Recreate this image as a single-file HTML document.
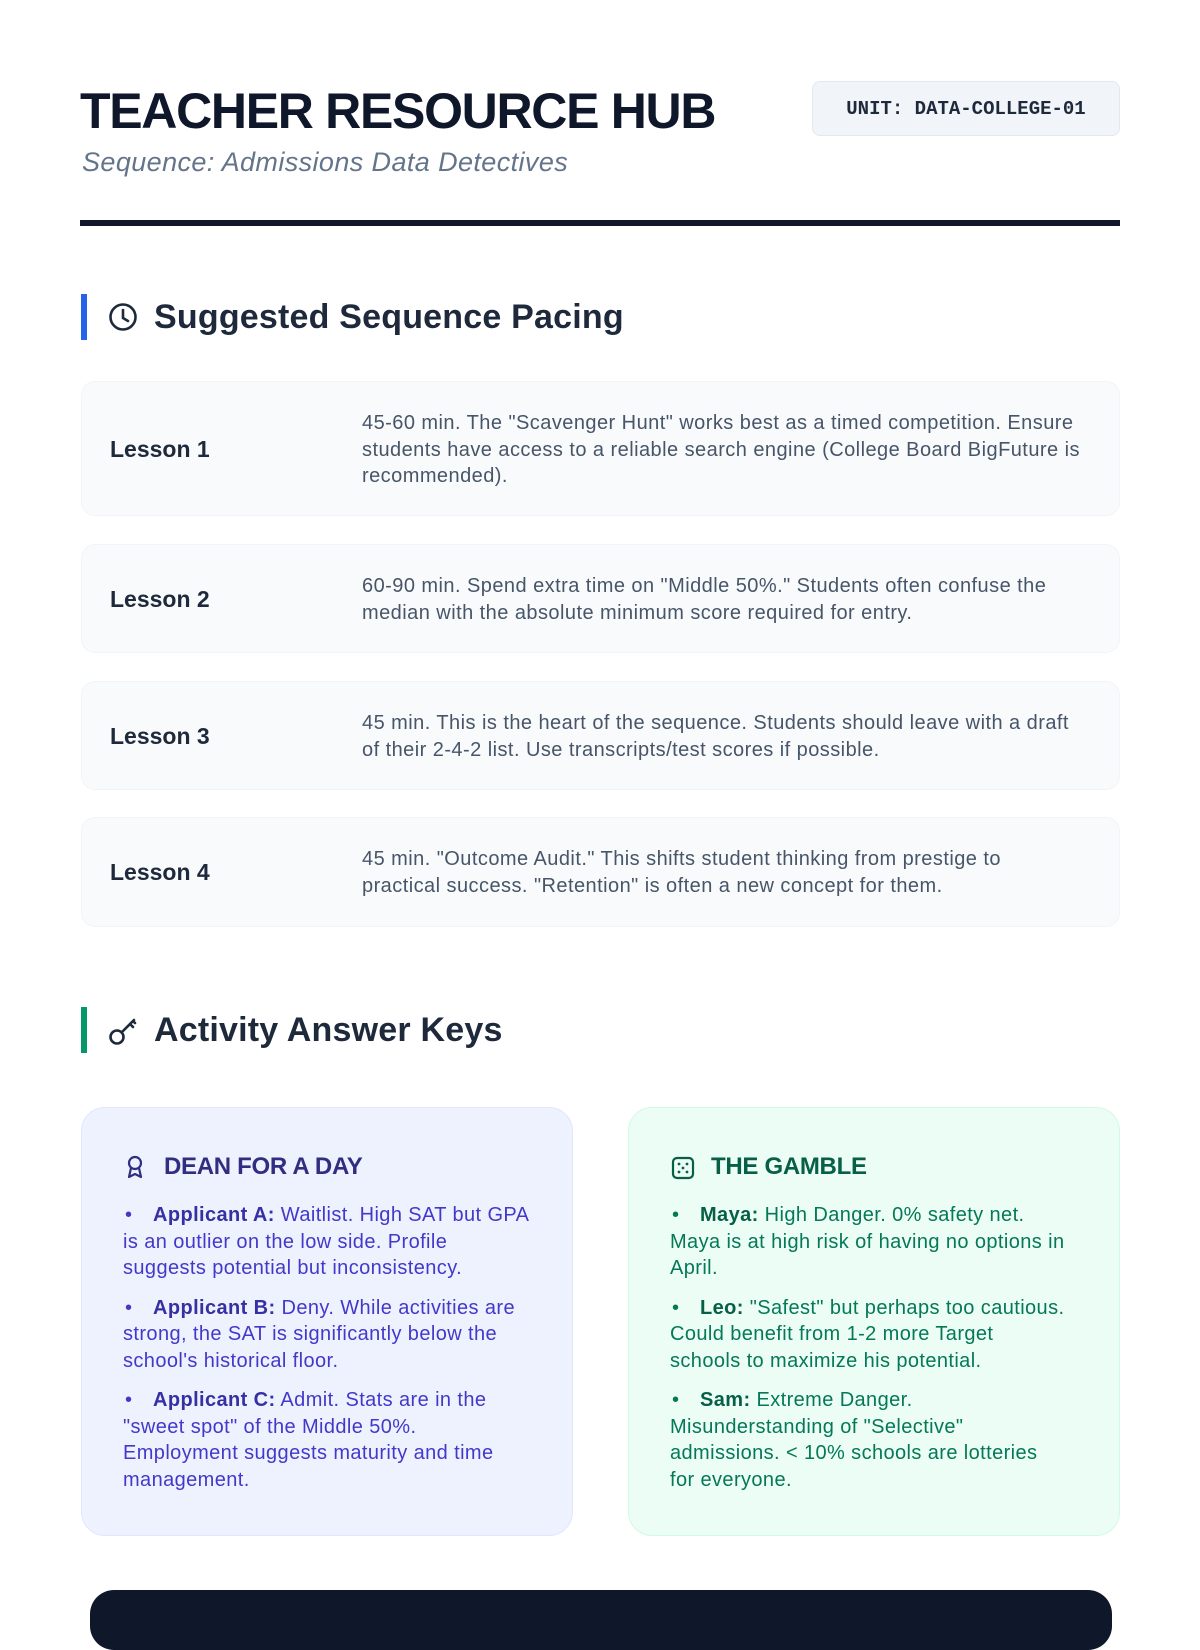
<!DOCTYPE html>
<html><head><meta charset="utf-8"><style>
*{margin:0;padding:0;box-sizing:border-box}
body{width:1200px;height:1600px;overflow:hidden;background:#fff;font-family:"Liberation Sans",sans-serif;position:relative;color:#0f172a}
.abs{position:absolute}
h1{position:absolute;left:80px;top:82px;font-size:50px;font-weight:bold;letter-spacing:-1.3px;color:#0f172a;white-space:nowrap}
.sub{left:82px;top:146px;font-size:27px;letter-spacing:0.4px;font-style:italic;color:#64748b;white-space:nowrap}
.badge{left:812px;top:81px;width:308px;height:55px;background:#f1f5f9;border:1px solid #e2e8f0;border-radius:8px;font-family:"Liberation Mono",monospace;font-weight:bold;font-size:19px;color:#1e293b;display:flex;align-items:center;justify-content:center}
.rule{left:80px;top:220px;width:1040px;height:6px;background:#0f172a}
.bar{width:6px;height:46px}
.sh{font-size:34px;font-weight:bold;color:#1e293b;white-space:nowrap;letter-spacing:0.2px}
.card{left:81px;width:1039px;background:#f8fafc;border:1px solid #f1f5f9;border-radius:14px}
.lab{position:absolute;left:28px;font-size:23px;font-weight:bold;color:#1e293b}
.desc{position:absolute;left:280px;right:34px;font-size:20px;letter-spacing:0.45px;line-height:26.5px;color:#475569}
.box{top:1107px;width:492px;height:429px;border-radius:24px;padding:0 36px 0 41px}
.bt{position:absolute;top:45px;left:82px;font-size:24px;font-weight:bold;letter-spacing:-0.3px}
ul{position:absolute;top:94px;left:41px;right:46px;list-style:none}
.L ul{right:38px}
.G ul{right:54px}
li{font-size:20px;letter-spacing:0.4px;line-height:26.5px;margin-bottom:13px}
li:before{content:"•";display:inline-block;width:28px;padding-left:2px}
.L{color:#4338ca}.L b{color:#3730a3}
.G{color:#047857}.G b{color:#065f46}
</style></head><body>
<h1>TEACHER RESOURCE HUB</h1>
<div class="abs sub" style="top:147px">Sequence: Admissions Data Detectives</div>
<div class="abs badge">UNIT: DATA-COLLEGE-01</div>
<div class="abs rule"></div>

<div class="abs bar" style="left:81px;top:294px;background:#2563eb"></div>
<svg class="abs" style="left:108px;top:302px" width="30" height="30" viewBox="0 0 30 30"><circle cx="15" cy="15" r="12.5" fill="none" stroke="#1e293b" stroke-width="2.6"/><path d="M15 8v8l5 3" fill="none" stroke="#1e293b" stroke-width="2.6" stroke-linecap="round"/></svg>
<div class="abs sh" style="left:154px;top:298px">Suggested Sequence Pacing</div>

<div class="abs card" style="top:381px;height:135px"><div class="lab" style="top:54px">Lesson 1</div><div class="desc" style="top:28px">45-60 min. The "Scavenger Hunt" works best as a timed competition. Ensure students have access to a reliable search engine (College Board BigFuture is recommended).</div></div>
<div class="abs card" style="top:544px;height:109px"><div class="lab" style="top:41px">Lesson 2</div><div class="desc" style="top:28px">60-90 min. Spend extra time on "Middle 50%." Students often confuse the median with the absolute minimum score required for entry.</div></div>
<div class="abs card" style="top:681px;height:109px"><div class="lab" style="top:41px">Lesson 3</div><div class="desc" style="top:28px">45 min. This is the heart of the sequence. Students should leave with a draft of their 2-4-2 list. Use transcripts/test scores if possible.</div></div>
<div class="abs card" style="top:817px;height:110px"><div class="lab" style="top:41px">Lesson 4</div><div class="desc" style="top:28px">45 min. "Outcome Audit." This shifts student thinking from prestige to practical success. "Retention" is often a new concept for them.</div></div>

<div class="abs bar" style="left:81px;top:1007px;background:#059669"></div>
<svg class="abs" style="left:108px;top:1015px" width="32" height="32" viewBox="0 0 32 32"><circle cx="9" cy="22" r="6.5" fill="none" stroke="#1e293b" stroke-width="2.6"/><path d="M14 17l12-12M22 9l3 3M25 6l2 2" fill="none" stroke="#1e293b" stroke-width="2.6" stroke-linecap="round"/></svg>
<div class="abs sh" style="left:154px;top:1011px">Activity Answer Keys</div>

<div class="abs box L" style="left:81px;background:#eef2ff;border:1px solid #e0e7ff">
<svg class="abs" style="left:42px;top:46px" width="22" height="26" viewBox="0 0 22 26"><circle cx="11" cy="9" r="6" fill="none" stroke="#312e81" stroke-width="2.2"/><path d="M7 14l-2 9 6-3 6 3-2-9" fill="none" stroke="#312e81" stroke-width="2.2" stroke-linejoin="round"/></svg>
<div class="bt" style="color:#312e81">DEAN FOR A DAY</div>
<ul>
<li><b>Applicant A:</b> Waitlist. High SAT but GPA is an outlier on the low side. Profile suggests potential but inconsistency.</li>
<li><b>Applicant B:</b> Deny. While activities are strong, the SAT is significantly below the school's historical floor.</li>
<li><b>Applicant C:</b> Admit. Stats are in the "sweet spot" of the Middle 50%. Employment suggests maturity and time management.</li>
</ul></div>

<div class="abs box G" style="left:628px;background:#ecfdf5;border:1px solid #d1fae5">
<svg class="abs" style="left:42px;top:48px" width="24" height="24" viewBox="0 0 24 24"><rect x="2" y="2" width="20" height="20" rx="4" fill="none" stroke="#065f46" stroke-width="2.2"/><circle cx="8" cy="8" r="1.4" fill="#065f46"/><circle cx="16" cy="8" r="1.4" fill="#065f46"/><circle cx="12" cy="12" r="1.4" fill="#065f46"/><circle cx="8" cy="16" r="1.4" fill="#065f46"/><circle cx="16" cy="16" r="1.4" fill="#065f46"/></svg>
<div class="bt" style="color:#065f46">THE GAMBLE</div>
<ul>
<li><b>Maya:</b> High Danger. 0% safety net. Maya is at high risk of having no options in April.</li>
<li><b>Leo:</b> "Safest" but perhaps too cautious. Could benefit from 1-2 more Target schools to maximize his potential.</li>
<li><b>Sam:</b> Extreme Danger. Misunderstanding of "Selective" admissions. &lt; 10% schools are lotteries for everyone.</li>
</ul></div>

<div class="abs" style="left:90px;top:1590px;width:1022px;height:60px;background:#0f172a;border-radius:24px"></div>
</body></html>
